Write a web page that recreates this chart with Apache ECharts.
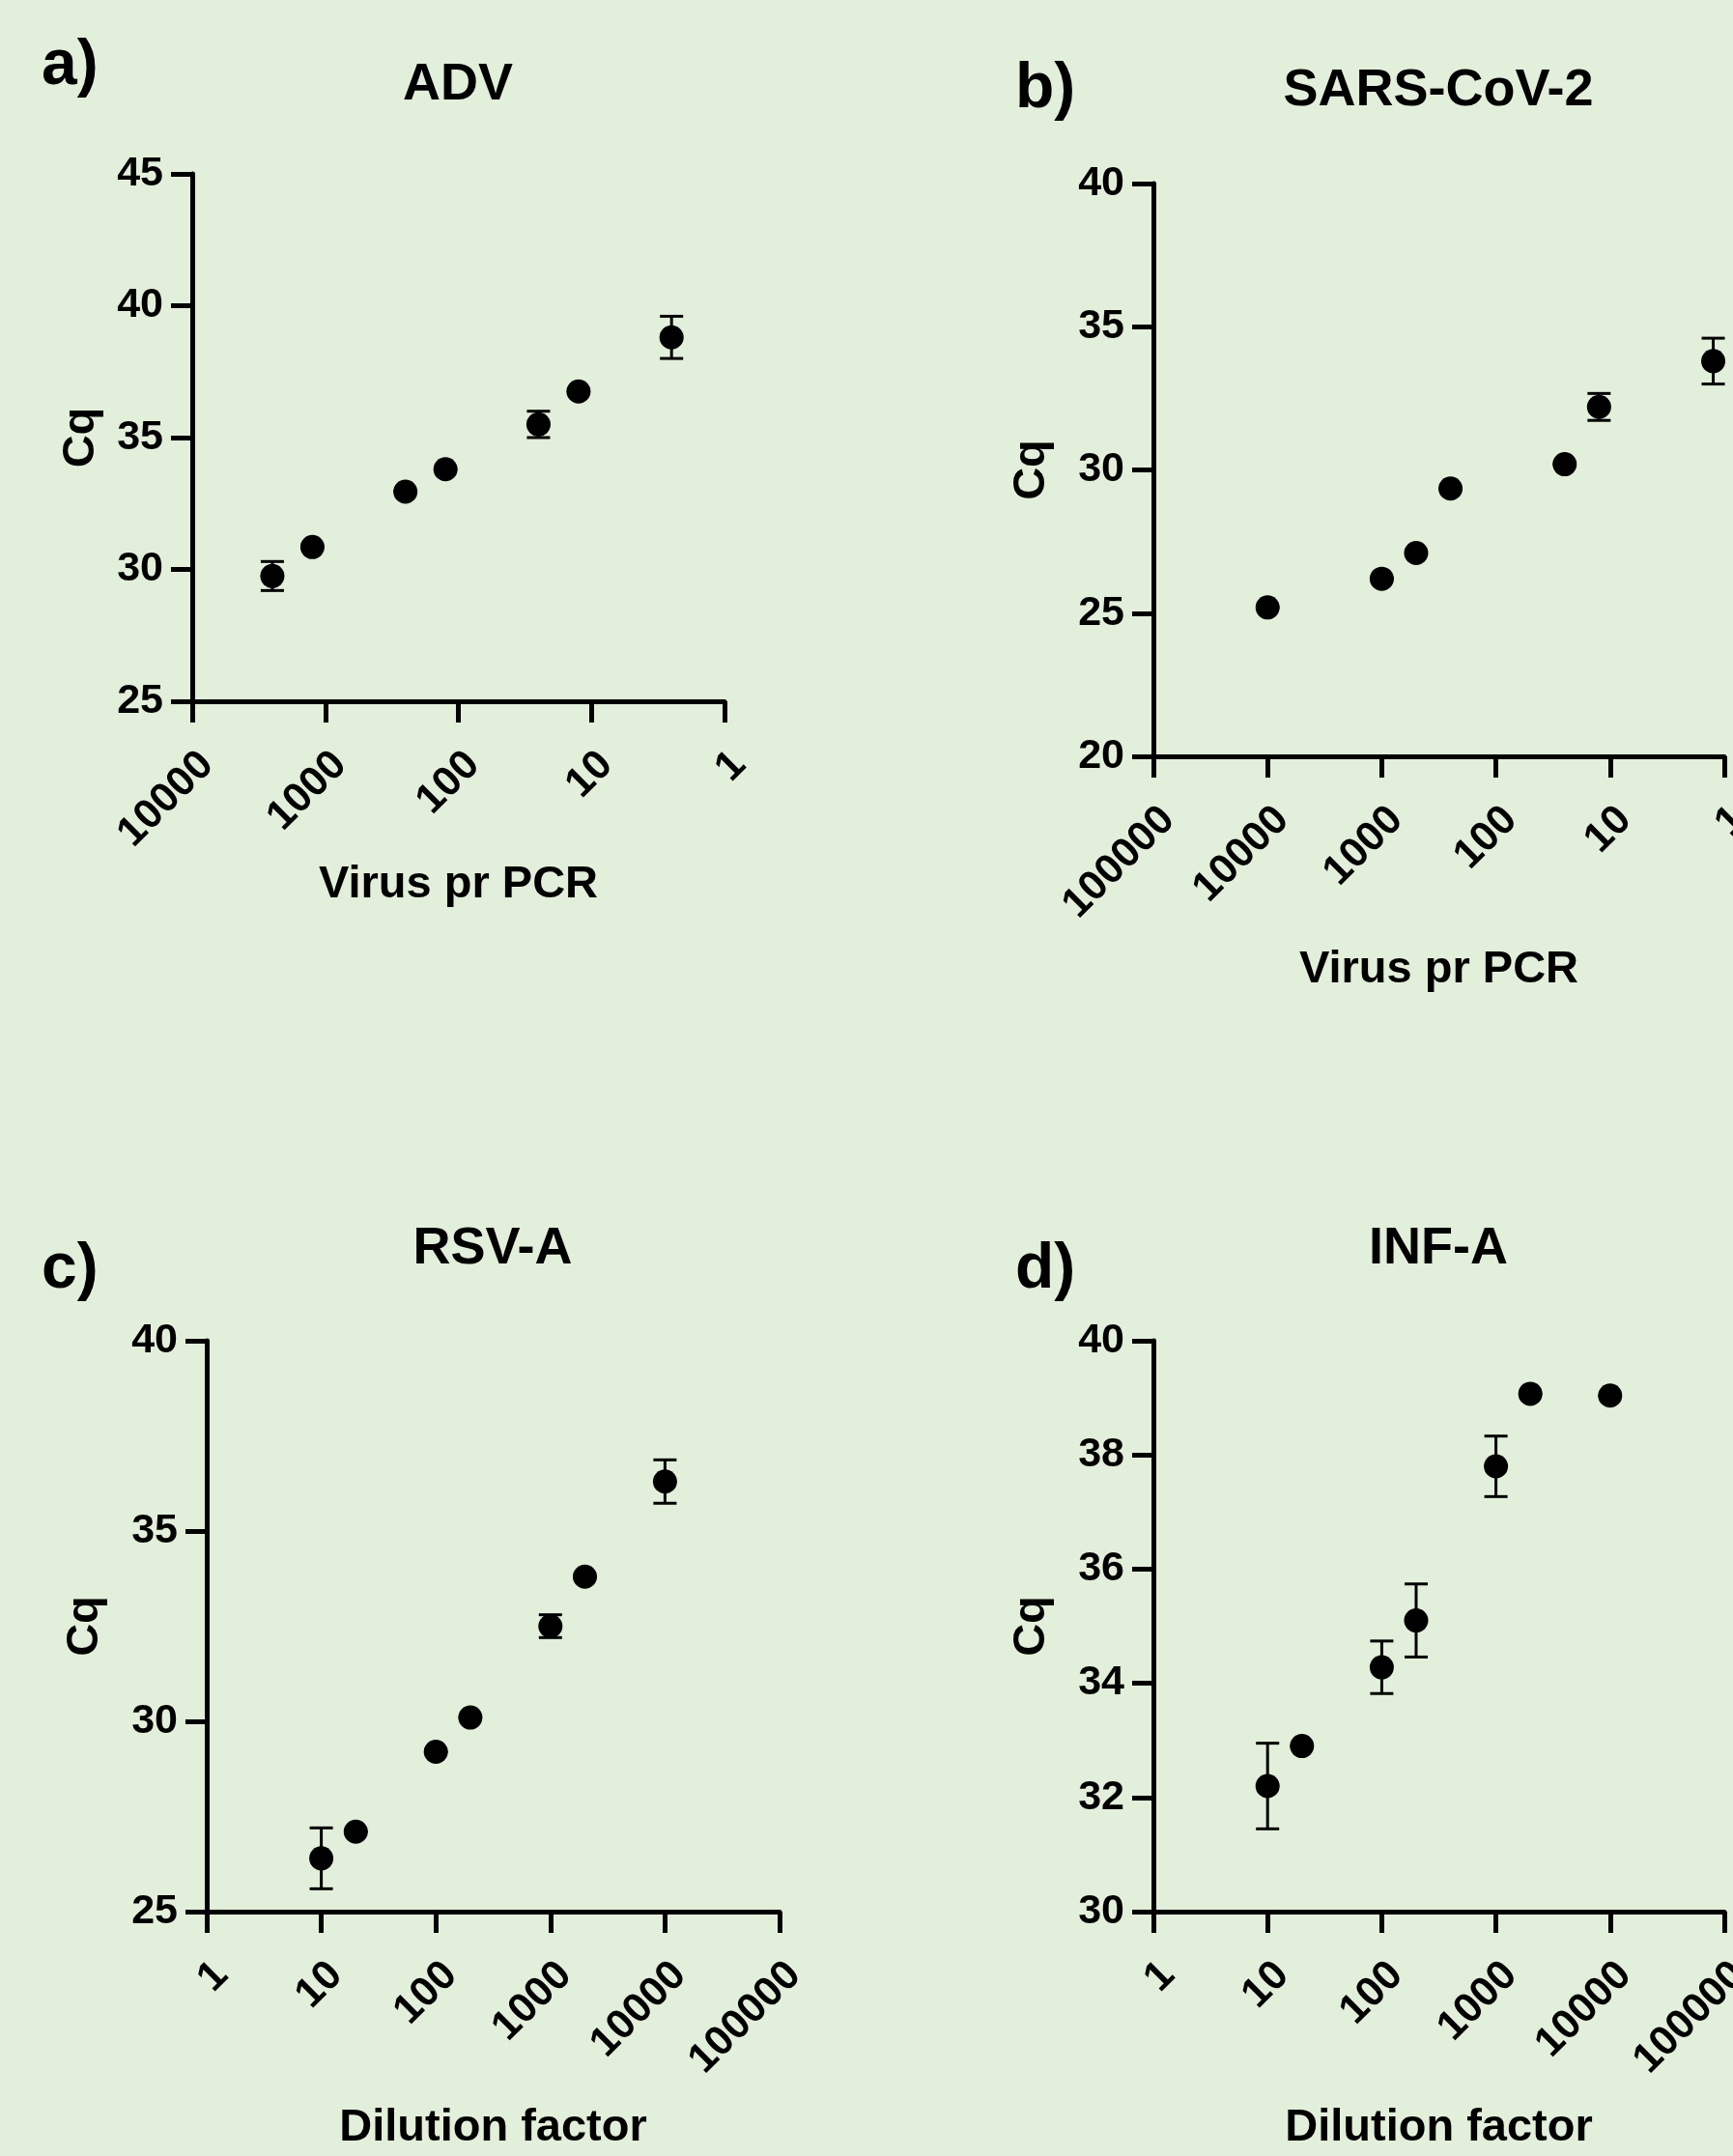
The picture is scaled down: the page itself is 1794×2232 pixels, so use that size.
<!DOCTYPE html>
<html>
<head>
<meta charset="utf-8">
<script src="https://cdn.jsdelivr.net/npm/echarts@6/dist/echarts.min.js"></script>
<style>
  html, body { margin: 0; padding: 0; background: #e2efda; }
  #chart { width: 1794px; height: 2232px; }
</style>
</head>
<body>
<div id="chart"></div>
<script>
// values (virus / dilution, mean Cq, SD)
const advX = [2500, 1250, 250, 125, 25, 12.5, 2.5]
const advCq = [29.75, 30.85, 32.95, 33.8, 35.5, 36.75, 38.8]
const advSd = [0.55, 0, 0, 0, 0.5, 0, 0.8]

const sarsX = [10000, 1000, 500, 250, 25, 12.5, 1.25]
const sarsCq = [25.2, 26.2, 27.1, 29.35, 30.2, 32.2, 33.8]
const sarsSd = [0, 0, 0, 0, 0, 0.47, 0.8]

const rsvX = [10, 20, 100, 200, 1000, 2000, 10000]
const rsvCq = [26.4, 27.1, 29.2, 30.1, 32.5, 33.8, 36.3]
const rsvSd = [0.8, 0, 0, 0, 0.3, 0, 0.57]

const infX = [10, 20, 100, 200, 1000, 2000, 10000]
const infCq = [32.2, 32.9, 34.28, 35.1, 37.8, 39.07, 39.04]
const infSd = [0.75, 0, 0.46, 0.64, 0.53, 0, 0]

const panels = [
  { letter: 'a)', title: 'ADV', xName: 'Virus pr PCR', x: advX, cq: advCq, sd: advSd,
    xMax: 10000, inverse: true, yMin: 25, yMax: 45, yStep: 5 },
  { letter: 'b)', title: 'SARS-CoV-2', xName: 'Virus pr PCR', x: sarsX, cq: sarsCq, sd: sarsSd,
    xMax: 100000, inverse: true, yMin: 20, yMax: 40, yStep: 5 },
  { letter: 'c)', title: 'RSV-A', xName: 'Dilution factor', x: rsvX, cq: rsvCq, sd: rsvSd,
    xMax: 100000, inverse: false, yMin: 25, yMax: 40, yStep: 5 },
  { letter: 'd)', title: 'INF-A', xName: 'Dilution factor', x: infX, cq: infCq, sd: infSd,
    xMax: 100000, inverse: false, yMin: 30, yMax: 40, yStep: 2 }
]

// layout of each panel on the page
const grids = [
  { left: 199, top: 180, width: 551, height: 546, outerBoundsMode: 'none' },
  { left: 1194, top: 190, width: 591, height: 593, outerBoundsMode: 'none' },
  { left: 214, top: 1388, width: 593, height: 591, outerBoundsMode: 'none' },
  { left: 1194, top: 1388, width: 591, height: 591, outerBoundsMode: 'none' }
]
const xNameGap = [190, 221, 224, 224]
const yNameGap = [115, 126, 126, 126]
const letterPos = [[43, 69], [1051, 93], [43, 1315], [1051, 1315]]
const titlePos = [[474, 88], [1489, 94], [510, 1293], [1489, 1293]]

const FONT = 'Arial, "Liberation Sans", sans-serif'
const black = '#000'

const chart = echarts.init(document.getElementById('chart'), null, { renderer: 'canvas' })

const xAxis = panels.map((p, i) => ({
  type: 'log',
  logBase: 10,
  gridIndex: i,
  min: 1,
  max: p.xMax,
  inverse: p.inverse,
  name: p.xName,
  nameLocation: 'middle',
  nameGap: xNameGap[i],
  nameTextStyle: { fontFamily: FONT, fontWeight: 'bold', fontSize: 47, color: black, verticalAlign: 'middle' },
  axisLine: { lineStyle: { color: black, width: 5 } },
  axisTick: { length: 22, lineStyle: { color: black, width: 5 } },
  axisLabel: {
    rotate: 45,
    margin: 44,
    align: 'right',
    verticalAlign: 'top',
    fontFamily: FONT, fontWeight: 'bold', fontSize: 43, color: black,
    formatter: v => String(Math.round(v))
  },
  splitLine: { show: false }
}))

const yAxis = panels.map((p, i) => ({
  type: 'value',
  gridIndex: i,
  min: p.yMin,
  max: p.yMax,
  interval: p.yStep,
  name: 'Cq',
  nameLocation: 'middle',
  nameRotate: 90,
  nameGap: yNameGap[i],
  nameTextStyle: { fontFamily: FONT, fontWeight: 'bold', fontSize: 47, color: black, verticalAlign: 'middle', align: 'center' },
  axisLine: { show: true, lineStyle: { color: black, width: 5 } },
  axisTick: { show: true, length: 22, lineStyle: { color: black, width: 5 } },
  axisLabel: { margin: 30, fontFamily: FONT, fontWeight: 'bold', fontSize: 43, color: black },
  splitLine: { show: false }
}))

const series = []
panels.forEach((p, i) => {
  series.push({
    type: 'custom',
    xAxisIndex: i,
    yAxisIndex: i,
    data: p.x.map((x, k) => [x, p.cq[k] - p.sd[k], p.cq[k] + p.sd[k]]),
    renderItem(params, api) {
      const lo = api.coord([api.value(0), api.value(1)])
      const hi = api.coord([api.value(0), api.value(2)])
      const w = 12
      const st = { stroke: black, lineWidth: 3 }
      return {
        type: 'group',
        children: [
          { type: 'line', shape: { x1: lo[0], y1: lo[1], x2: hi[0], y2: hi[1] }, style: st },
          { type: 'line', shape: { x1: lo[0] - w, y1: lo[1], x2: lo[0] + w, y2: lo[1] }, style: st },
          { type: 'line', shape: { x1: hi[0] - w, y1: hi[1], x2: hi[0] + w, y2: hi[1] }, style: st }
        ]
      }
    },
    silent: true,
    z: 2
  })
  series.push({
    type: 'scatter',
    xAxisIndex: i,
    yAxisIndex: i,
    symbol: 'circle',
    symbolSize: 25,
    itemStyle: { color: black, opacity: 1 },
    data: p.x.map((x, k) => [x, p.cq[k]]),
    z: 3
  })
})

const graphic = []
panels.forEach((p, i) => {
  graphic.push({
    type: 'text', x: letterPos[i][0], y: letterPos[i][1],
    style: { text: p.letter, font: 'bold 66px ' + FONT, fill: black, textAlign: 'left', textVerticalAlign: 'middle' }
  })
  graphic.push({
    type: 'text', x: titlePos[i][0], y: titlePos[i][1],
    style: { text: p.title, font: 'bold 54px ' + FONT, fill: black, textAlign: 'center', textVerticalAlign: 'middle' }
  })
})

chart.setOption({
  backgroundColor: '#e2efda',
  animation: false,
  grid: grids,
  xAxis: xAxis,
  yAxis: yAxis,
  series: series,
  graphic: graphic
})
</script>
</body>
</html>
